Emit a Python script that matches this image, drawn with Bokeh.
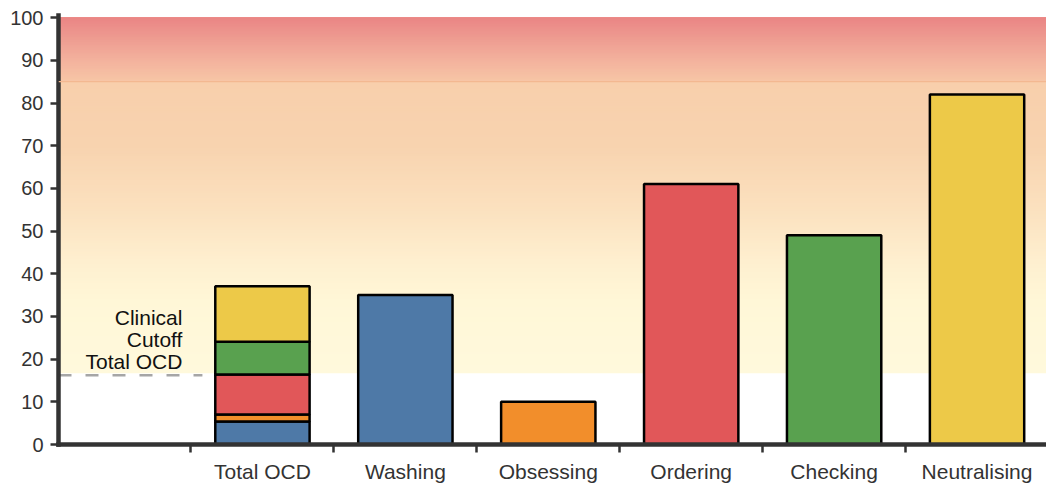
import numpy as np
from bokeh.plotting import figure
from bokeh.models import Range1d, FixedTicker, Span
from bokeh.core.properties import value
from bokeh.embed import file_html
from bokeh.resources import INLINE

# ---------------- data ----------------
categories = ["Total OCD", "Washing", "Obsessing", "Ordering", "Checking", "Neutralising"]
subscale_values = [35, 10, 61, 49, 82]
subscale_colors = ["#4e79a7", "#f28e2b", "#e15759", "#59a14f", "#edc948"]
total_ocd_parts = [5.4, 1.6, 9.4, 7.7, 13.0]
y_ticks = list(range(0, 101, 10))
clinical_cutoff = 16.2
cutoff_label = "Clinical\nCutoff\nTotal OCD"
band_start = 16.7
band_split = 85
band_end = 100

# ---------------- style ----------------
FONT = "Liberation Sans"
AXIS_COLOR = "#333333"
x_lo, x_hi = -0.427, 6.486
bar_width = 0.66
label_x = 0.44
dash_end = 0.58

lower_stops = [(16.7, "#fff9dc"), (33.7, "#fff7d7"), (43, "#feefcf"),
               (55, "#fbe1bf"), (70, "#f8d3af"), (85, "#f8cfac")]
upper_stops = [(85, "#f7c6a6"), (90, "#f3b29d"), (95, "#ee9c91"), (100, "#ea8585")]


def hex_rgb(h):
    h = h.lstrip("#")
    return np.array([int(h[i:i + 2], 16) for i in (0, 2, 4)], dtype=float)


def interp_color(stops, v):
    ys = [s[0] for s in stops]
    cs = np.array([hex_rgb(s[1]) for s in stops])
    rgb = [np.interp(v, ys, cs[:, k]) for k in range(3)]
    return "#%02x%02x%02x" % tuple(int(round(c)) for c in rgb)


p = figure(width=1046, height=486, output_backend="svg", toolbar_location=None,
           x_range=Range1d(x_lo, x_hi), y_range=Range1d(0, 100.5),
           min_border_left=58, min_border_right=0, min_border_top=15,
           min_border_bottom=42)
p.outline_line_color = None
p.xgrid.visible = False
p.ygrid.visible = False
p.background_fill_color = "white"

# gradient background built from overlapping strips
for stops, lo, hi, n in [(lower_stops, band_start, band_split, 110),
                         (upper_stops, band_split, band_end, 40)]:
    levels = np.linspace(lo, hi, n + 1)[:-1]
    step = (hi - lo) / n
    colors = [interp_color(stops, lv + step / 2) for lv in levels]
    p.quad(left=[x_lo] * n, right=[x_hi] * n, bottom=list(levels), top=[hi] * n,
           fill_color=colors, line_color=None)

p.add_layout(Span(location=band_split, dimension="width", line_color="#f3b891",
                  line_width=1.2))

# clinical cutoff
p.line(x=[x_lo, dash_end], y=[clinical_cutoff, clinical_cutoff],
       line_color="#a6a6a6", line_width=2.5, line_dash="13 14")
p.text(x=[label_x], y=[band_start], text=[cutoff_label], text_align="right",
       text_baseline="bottom", text_font=value(FONT), text_font_size="21px",
       text_line_height=0.97, text_color="#111111")

positions = list(range(1, len(categories) + 1))

# stacked Total OCD bar
tops = list(np.cumsum(total_ocd_parts))
bottoms = [0] + tops[:-1]
p.vbar(x=[positions[0]] * len(total_ocd_parts), bottom=bottoms, top=tops,
       width=bar_width, fill_color=subscale_colors, line_color="black",
       line_width=2.5)

# subscale bars
p.vbar(x=positions[1:], bottom=0, top=subscale_values, width=bar_width,
       fill_color=subscale_colors, line_color="black", line_width=2.5)

# x axis
xa = p.xaxis[0]
xa.ticker = FixedTicker(ticks=positions, minor_ticks=[v - 0.5 for v in positions])
xa.major_label_overrides = {pos: cat for pos, cat in zip(positions, categories)}
xa.major_tick_out = 0
xa.major_tick_in = 0
xa.minor_tick_out = 8
xa.minor_tick_in = 0
xa.minor_tick_line_width = 2.5
xa.minor_tick_line_color = AXIS_COLOR
xa.axis_line_width = 4.5
xa.axis_line_color = AXIS_COLOR
xa.axis_line_cap = "square"
xa.major_label_standoff = 7
xa.major_label_text_font = FONT
xa.major_label_text_font_size = "21px"
xa.major_label_text_color = AXIS_COLOR

# y axis
ya = p.yaxis[0]
ya.ticker = FixedTicker(ticks=y_ticks, minor_ticks=[])
ya.major_tick_out = 8
ya.major_tick_in = 0
ya.major_tick_line_width = 2.5
ya.major_tick_line_color = AXIS_COLOR
ya.minor_tick_out = 0
ya.minor_tick_in = 0
ya.axis_line_width = 4.5
ya.axis_line_color = AXIS_COLOR
ya.axis_line_cap = "square"
ya.major_label_standoff = 7
ya.major_label_text_font = FONT
ya.major_label_text_font_size = "20px"
ya.major_label_text_color = AXIS_COLOR

open("out.html", "w").write(file_html(p, INLINE))
